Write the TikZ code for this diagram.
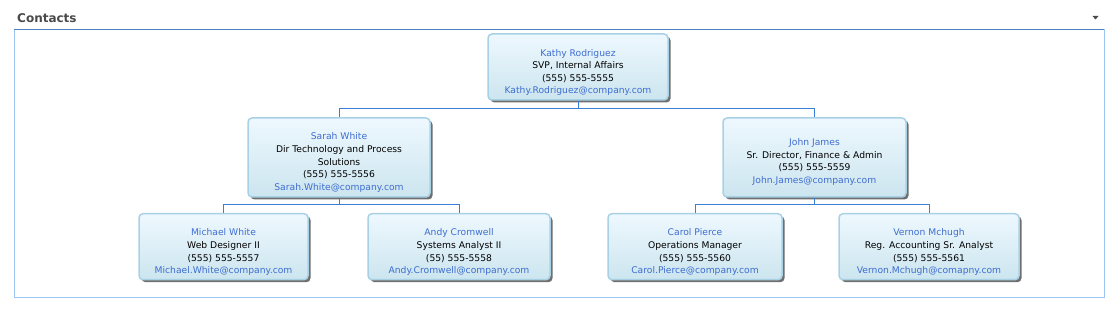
\documentclass[tikz,border=0pt]{standalone}
\usepackage{fontspec}
\setmainfont{DejaVu Sans}
\usepackage{tikz}
\usetikzlibrary{shadows, positioning, calc}

\definecolor{namecol}{HTML}{3E6DD0}
\definecolor{linkcol}{HTML}{3A7FD6}
\definecolor{cardtop}{HTML}{EEF8FE}
\definecolor{cardbot}{HTML}{CCE5EF}
\definecolor{cardline}{HTML}{A9D1E6}
\definecolor{frametop}{HTML}{4D84C4}
\definecolor{frameside}{HTML}{9CC6F2}
\definecolor{headcol}{HTML}{4A4A4A}

\begin{document}
\begin{tikzpicture}[x=1pt, y=-1pt,
    card/.style={draw=cardline, line width=1.5pt, rounded corners=4pt,
      top color=cardtop, bottom color=cardbot, minimum height=66pt,
      drop shadow={shadow xshift=2.5pt, shadow yshift=-2.5pt, fill=black!70, opacity=0.8}},
    cardtext/.style={font=\fontsize{9.2}{12.6}\selectfont, align=center, inner sep=0pt},
    link/.style={draw=linkcol, line width=0.8pt}]
  \useasboundingbox[fill=white] (0,0) rectangle (1119,312);
  % panel
  \node[font=\fontsize{12}{14}\selectfont\bfseries, text=headcol, anchor=west, inner sep=0pt] (head) at (17,18) {Contacts};
  \fill[headcol] (1092.5,16) -- (1098.5,16) -- (1095.5,19.5) -- cycle;
  \draw[frameside, line width=0.8pt] (14,29) -- (14,297.5) -- (1104,297.5) -- (1104,29);
  \draw[frametop, line width=0.8pt] (14,29) -- (1104,29);
  % cards
  \node[card, minimum width=180pt] (kathy) at (578,67) {};
  \node[cardtext] (kathytext) at ([yshift=-5.5pt]kathy.center) {{\color{namecol}Kathy Rodriguez}\\SVP, Internal Affairs\\(555) 555-5555\\{\color{namecol}Kathy.Rodriguez@company.com}};
  \node[card, minimum width=182pt, minimum height=79pt] (sarah) at (339,157.5) {};
  \node[cardtext] (sarahtext) at ([yshift=-5pt]sarah.center) {{\color{namecol}Sarah White}\\Dir Technology and Process\\Solutions\\(555) 555-5556\\{\color{namecol}Sarah.White@company.com}};
  \node[card, minimum width=183pt, minimum height=79pt] (john) at (814.5,157.5) {};
  \node[cardtext] (johntext) at ([yshift=-4.5pt]john.center) {{\color{namecol}John James}\\Sr. Director, Finance \& Admin\\(555) 555-5559\\{\color{namecol}John.James@company.com}};
  \node[card, minimum width=169pt] (michael) at (223.5,246.7) {};
  \node[cardtext] (michaeltext) at ([yshift=-5.5pt]michael.center) {{\color{namecol}Michael White}\\Web Designer II\\(555) 555-5557\\{\color{namecol}Michael.White@company.com}};
  \node[card, minimum width=182pt] (andy) at (459,246.7) {};
  \node[cardtext] (andytext) at ([yshift=-5.5pt]andy.center) {{\color{namecol}Andy Cromwell}\\Systems Analyst II\\(55) 555-5558\\{\color{namecol}Andy.Cromwell@company.com}};
  \node[card, minimum width=174pt] (carol) at (695,246.7) {};
  \node[cardtext] (caroltext) at ([yshift=-5.5pt]carol.center) {{\color{namecol}Carol Pierce}\\Operations Manager\\(555) 555-5560\\{\color{namecol}Carol.Pierce@company.com}};
  \node[card, minimum width=180pt] (vernon) at (929,246.7) {};
  \node[cardtext] (vernontext) at ([yshift=-5.5pt]vernon.center) {{\color{namecol}Vernon Mchugh}\\Reg. Accounting Sr. Analyst\\(555) 555-5561\\{\color{namecol}Vernon.Mchugh@comapny.com}};
  % connectors
  \draw[link] (kathy.south) -- ++(0,7.5) -| (sarah.north);
  \draw[link] (kathy.south) -- ++(0,7.5) -| (john.north);
  \draw[link] (sarah.south) -- ++(0,7) -| (michael.north);
  \draw[link] (sarah.south) -- ++(0,7) -| (andy.north);
  \draw[link] (john.south) -- ++(0,7) -| (carol.north);
  \draw[link] (john.south) -- ++(0,7) -| (vernon.north);
\end{tikzpicture}
\end{document}
